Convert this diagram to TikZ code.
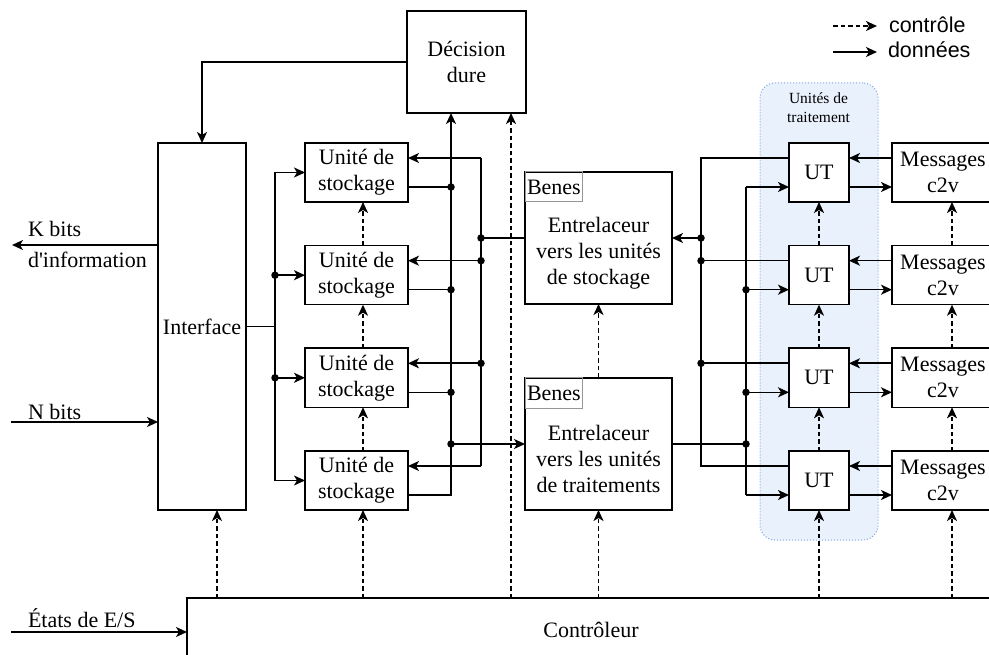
\documentclass[tikz,border=0pt]{standalone}
\usepackage{fontspec}
\setmainfont{Liberation Serif}
\newfontfamily\legendfont{Liberation Sans}
\usetikzlibrary{arrows.meta}
\definecolor{utfill}{RGB}{233,241,253}
\definecolor{utdraw}{RGB}{126,166,224}
\definecolor{benesgray}{RGB}{150,150,150}
\begin{document}
\begin{tikzpicture}[x=1pt,y=-1pt,
  font=\fontsize{22}{26}\selectfont,
  every node/.style={inner sep=0pt, outer sep=0pt},
  ln/.style={line width=1.6pt},
  blk/.style={draw, ln, fill=white, align=center},
  arr/.style={ln, -{Stealth[length=11pt,width=10pt,inset=3pt]}},
  ctl/.style={arr, dash pattern=on 4.5pt off 3pt},
  jdot/.style={circle, fill, minimum size=7.5pt},
  subox/.style={blk, minimum width=103pt, minimum height=59pt},
  utnode/.style={blk, minimum width=60pt, minimum height=59pt},
  msgbox/.style={blk, minimum width=102pt, minimum height=59pt},
  benbox/.style={blk, minimum width=147pt, minimum height=132pt},
  beneslab/.style={draw=benesgray, line width=1pt, minimum height=30pt, inner xsep=2pt, anchor=north west},
  lab/.style={anchor=base west}
]
\useasboundingbox (0,0) rectangle (989,655);
\clip (0,0) rectangle (989,655);

% processing-units container
\node[draw=utdraw, fill=utfill, dotted, line width=1pt, rounded corners=15pt,
      minimum width=118pt, minimum height=457pt] (utbox) at (819,311.5) {};
\node[align=center, font=\fontsize{15.5}{19}\selectfont] (utboxt) at (818.5,107.5) {Unités de\\traitement};

% blocks
\node[blk, minimum width=119pt, minimum height=102pt] (dec) at (466.5,62) {Décision\\dure};
\node[blk, minimum width=88pt, minimum height=367pt] (iface) at (202,326.5) {Interface};
\node[blk, minimum width=808pt, minimum height=64pt] (ctrl) at (591,630) {Contrôleur};

\node[subox] (su1) at (356.5,172.5) {Unité de\\stockage};
\node[subox] (su2) at (356.5,275.2) {Unité de\\stockage};
\node[subox] (su3) at (356.5,377.8) {Unité de\\stockage};
\node[subox] (su4) at (356.5,480.5) {Unité de\\stockage};

\node[utnode] (ut1) at (819,172.5) {UT};
\node[utnode] (ut2) at (819,275.2) {UT};
\node[utnode] (ut3) at (819,377.8) {UT};
\node[utnode] (ut4) at (819,480.5) {UT};

\node[msgbox] (msg1) at (943,172.5) {Messages\\c2v};
\node[msgbox] (msg2) at (943,275.2) {Messages\\c2v};
\node[msgbox] (msg3) at (943,377.8) {Messages\\c2v};
\node[msgbox] (msg4) at (943,480.5) {Messages\\c2v};

\node[benbox] (ben1) at (598.5,238) {};
\node[align=center] (ben1t) at (598.5,253) {Entrelaceur\\vers les unités\\de stockage};
\node[beneslab] (ben1l) at (ben1.north west) {Benes};
\node[benbox] (ben2) at (598.5,444) {};
\node[align=center] (ben2t) at (598.5,459) {Entrelaceur\\vers les unités\\de traitements};
\node[beneslab] (ben2l) at (ben2.north west) {Benes};

% column coordinates
\coordinate (xl) at (275,0);
\coordinate (xo) at (451,0);
\coordinate (xi) at (481,0);
\coordinate (xr1) at (701,0);
\coordinate (xr2) at (746,0);
\coordinate (xc0) at (217,0);
\coordinate (xcs) at (363,0);
\coordinate (xcd) at (511,0);
\coordinate (xcm) at (952,0);
\coordinate (lb) at (275,326.5);

\foreach \k in {1,2,3,4}{
  \coordinate (sui\k) at ([yshift=14.5pt]su\k.east);
  \coordinate (suo\k) at ([yshift=-14.5pt]su\k.east);
  \coordinate (uto\k) at ([yshift=14.5pt]ut\k.west);
  \coordinate (uti\k) at ([yshift=-14.5pt]ut\k.west);
}

% interface to storage units
\draw[ln] (iface.east) -- (lb);
\draw[arr] (lb) |- (su1.west);
\draw[arr] (lb) |- (su4.west);
\draw[arr] (su2.west -| xl) node[jdot]{} -- (su2.west);
\draw[arr] (su3.west -| xl) node[jdot]{} -- (su3.west);

% storage outputs to decision bus
\draw[arr] (suo4) -| ([xshift=-15.5pt]dec.south);
\draw[ln] (suo1) -- (suo1 -| xo) node[jdot]{};
\draw[ln] (suo2) -- (suo2 -| xo) node[jdot]{};
\draw[ln] (suo3) -- (suo3 -| xo) node[jdot]{};
\draw[arr] (ben2.west -| xo) node[jdot]{} -- (ben2.west);

% storage inputs bus
\draw[ln] (sui1 -| xi) -- (sui4 -| xi);
\draw[arr] (sui1 -| xi) -- (sui1);
\draw[arr] (sui4 -| xi) -- (sui4);
\draw[arr] (sui2 -| xi) node[jdot]{} -- (sui2);
\draw[arr] (sui3 -| xi) node[jdot]{} -- (sui3);
\draw[ln] (ben1.west) -- (ben1.west -| xi) node[jdot]{};

% UT outputs bus to Benes 1
\draw[ln] (uto1) -- (uto1 -| xr1) -- (uto4 -| xr1) -- (uto4);
\draw[ln] (uto2) -- (uto2 -| xr1) node[jdot]{};
\draw[ln] (uto3) -- (uto3 -| xr1) node[jdot]{};
\draw[arr] (ben1.east -| xr1) node[jdot]{} -- (ben1.east);

% Benes 2 to UT inputs bus
\draw[ln] (uti1 -| xr2) -- (uti4 -| xr2);
\draw[arr] (uti1 -| xr2) -- (uti1);
\draw[arr] (uti4 -| xr2) -- (uti4);
\draw[arr] (uti2 -| xr2) node[jdot]{} -- (uti2);
\draw[arr] (uti3 -| xr2) node[jdot]{} -- (uti3);
\draw[ln] (ben2.east) -- (ben2.east -| xr2) node[jdot]{};

% UT <-> messages
\foreach \k in {1,2,3,4}{
  \draw[arr] ([yshift=14.5pt]msg\k.west) -- ([yshift=14.5pt]ut\k.east);
  \draw[arr] ([yshift=-14.5pt]ut\k.east) -- ([yshift=-14.5pt]msg\k.west);
}

% decision to interface
\draw[arr] (dec.west) -| (iface.north);

% external I/O
\coordinate (kout) at (12,245);
\coordinate (nin) at (11,422);
\coordinate (ein) at (11,632);
\draw[arr] (iface.west |- kout) -- (kout);
\draw[arr] (nin) -- (nin -| iface.west);
\draw[arr] (ein) -- (ein -| ctrl.west);
\node[lab] (klab) at (28,237) {K bits};
\node[lab] (ilab) at (28,267.5) {d\textquotesingle information};
\node[lab] (nlab) at (28,419) {N bits};
\node[lab] (elab) at (28,627) {États de E/S};

% control (dashed)
\draw[ctl] (ctrl.north -| xc0) -- (iface.south -| xc0);
\draw[ctl] (ctrl.north -| xcs) -- (su4.south -| xcs);
\draw[ctl] (su4.north -| xcs) -- (su3.south -| xcs);
\draw[ctl] (su3.north -| xcs) -- (su2.south -| xcs);
\draw[ctl] (su2.north -| xcs) -- (su1.south -| xcs);
\draw[ctl] (ctrl.north -| xcd) -- (dec.south -| xcd);
\draw[ctl] (ctrl.north -| ben2.south) -- (ben2.south);
\draw[ctl] (ben2.north) -- (ben1.south);
\draw[ctl] (ctrl.north -| ut4.south) -- (ut4.south);
\draw[ctl] (ut4.north) -- (ut3.south);
\draw[ctl] (ut3.north) -- (ut2.south);
\draw[ctl] (ut2.north) -- (ut1.south);
\draw[ctl] (ctrl.north -| xcm) -- (msg4.south -| xcm);
\draw[ctl] (msg4.north -| xcm) -- (msg3.south -| xcm);
\draw[ctl] (msg3.north -| xcm) -- (msg2.south -| xcm);
\draw[ctl] (msg2.north -| xcm) -- (msg1.south -| xcm);

% legend
\coordinate (lg1a) at (833,26);
\coordinate (lg1b) at (877,26);
\coordinate (lg2a) at (833,52);
\coordinate (lg2b) at (877,52);
\draw[ctl] (lg1a) -- (lg1b);
\draw[arr] (lg2a) -- (lg2b);
\node[lab, font=\legendfont\fontsize{21.5}{26}\selectfont] (lgt1) at (889,33) {contrôle};
\node[lab, font=\legendfont\fontsize{21.5}{26}\selectfont] (lgt2) at (888,58) {données};
\end{tikzpicture}
\end{document}
